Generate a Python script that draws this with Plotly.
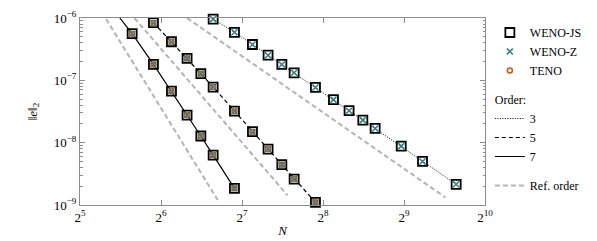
import plotly.graph_objects as go

# ---- data ----
N3 = [100, 120, 140, 160, 180, 200, 240, 280, 320, 360, 400, 500, 600, 800]
e3 = [9.6e-7, 5.9e-7, 3.76e-7, 2.53e-7, 1.8e-7, 1.32e-7, 7.7e-8, 4.9e-8,
      3.26e-8, 2.3e-8, 1.69e-8, 8.8e-9, 5.0e-9, 2.15e-9]
N5 = [60, 70, 80, 90, 100, 120, 140, 160, 180, 200, 240]
e5 = [8.4e-7, 4.16e-7, 2.25e-7, 1.28e-7, 7.8e-8, 3.2e-8, 1.5e-8, 7.9e-9,
      4.44e-9, 2.61e-9, 1.1e-9]
N7 = [45, 50, 60, 70, 80, 90, 100, 120]
e7 = [1.0e-6, 5.6e-7, 1.8e-7, 6.7e-8, 2.77e-8, 1.28e-8, 6.3e-9, 1.85e-9]

ref7_N = [40, 104]
ref7_e = [9.64e-7, 1.2e-9]
ref5_N = [51, 189]
ref5_e = [1.0e-6, 1.43e-9]
ref3_N = [80, 730]
ref3_e = [1.0e-6, 1.32e-9]

x_tickvals = [32, 64, 128, 256, 512, 1024]
x_ticktext = ["2<sup>5</sup>", "2<sup>6</sup>", "2<sup>7</sup>", "2<sup>8</sup>",
              "2<sup>9</sup>", "2<sup>10</sup>"]
y_tickvals = [1e-9, 1e-8, 1e-7, 1e-6]
y_ticktext = ["10<sup>−9</sup>", "10<sup>−8</sup>", "10<sup>−7</sup>", "10<sup>−6</sup>"]
y_minor = [m * 10.0 ** k for k in (-9, -8, -7) for m in range(2, 10)]

TEAL = "#2f7f7f"
ORANGE = "#d95319"
GRAY = "#b3b3b3"
FONT = "'Liberation Serif', 'Times New Roman', serif"

fig = go.Figure()

# reference order lines
fig.add_trace(go.Scatter(
    x=ref7_N + [None] + ref5_N + [None] + ref3_N,
    y=ref7_e + [None] + ref5_e + [None] + ref3_e,
    mode="lines", name="Ref. order",
    line=dict(color=GRAY, width=2, dash="5px,3px"),
    legendgroup="c", legendrank=7, connectgaps=False))

# order lines
fig.add_trace(go.Scatter(x=N3, y=e3, mode="lines", name="3",
                         line=dict(color="black", width=1, dash="1px,1.5px"),
                         legendgroup="b", legendrank=4,
                         legendgrouptitle=dict(text="Order:")))
fig.add_trace(go.Scatter(x=N5, y=e5, mode="lines", name="5",
                         line=dict(color="black", width=1.2, dash="4px,3px"),
                         legendgroup="b", legendrank=5))
fig.add_trace(go.Scatter(x=N7, y=e7, mode="lines", name="7",
                         line=dict(color="black", width=1.2),
                         legendgroup="b", legendrank=6))

# schemes markers
fig.add_trace(go.Scatter(x=N3 + N5 + N7, y=e3 + e5 + e7, mode="markers", name="WENO-JS",
                         marker=dict(symbol="square-open", size=9, color="black",
                                     line=dict(width=1.8, color="black")),
                         legendgroup="a", legendrank=1, cliponaxis=False))
fig.add_trace(go.Scatter(x=N5 + N7, y=e5 + e7, mode="markers", name="TENO",
                         marker=dict(symbol="circle-open", size=5, color=ORANGE,
                                     line=dict(width=1.6, color=ORANGE)),
                         legendgroup="a", legendrank=3, cliponaxis=False))
fig.add_trace(go.Scatter(x=N3 + N5 + N7, y=e3 + e5 + e7, mode="markers", name="WENO-Z",
                         marker=dict(symbol="x-thin-open", size=6, color=TEAL,
                                     line=dict(width=1.5, color=TEAL)),
                         legendgroup="a", legendrank=2, cliponaxis=False))

axis_common = dict(showgrid=False, zeroline=False, showline=True, linecolor="#8c8c8c",
                   linewidth=1, mirror="ticks", ticks="inside", ticklen=5,
                   tickcolor="#8c8c8c", tickwidth=1, automargin=False,
                   tickfont=dict(family=FONT, size=13, color="black"))

fig.update_layout(
    width=597, height=241,
    margin=dict(l=72, r=120, t=10, b=44, autoexpand=False),
    paper_bgcolor="white", plot_bgcolor="white",
    font=dict(family=FONT, size=13, color="black"),
    showlegend=True,
    legend=dict(x=1.012, xanchor="left", y=1.0, yanchor="top",
                traceorder="grouped", tracegroupgap=10,
                font=dict(family=FONT, size=12, color="black"),
                grouptitlefont=dict(family=FONT, size=12, color="black"),
                bgcolor="rgba(0,0,0,0)", itemwidth=30),
    xaxis=dict(type="log", range=[1.50515, 3.0103],
               tickmode="array", tickvals=x_tickvals, ticktext=x_ticktext,
               title=dict(text="<i>N</i>", font=dict(family=FONT, size=13), standoff=2),
               **axis_common),
    yaxis=dict(type="log", range=[-9, -6],
               tickmode="array", tickvals=y_tickvals, ticktext=y_ticktext,
               minor=dict(tickmode="array", tickvals=y_minor, ticks="inside",
                          ticklen=2.5, tickcolor="#8c8c8c", tickwidth=1),
               title=dict(text="‖<i>e</i>‖<sub>2</sub>", font=dict(family=FONT, size=13),
                          standoff=13),
               **axis_common),
)

fig.write_html("out.html")
